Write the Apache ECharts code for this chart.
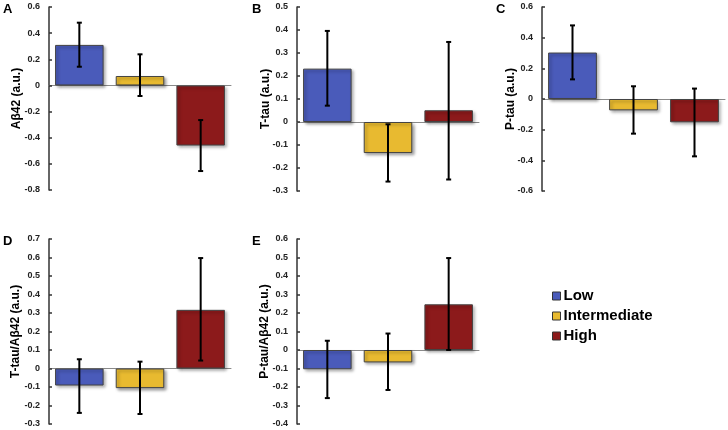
<!DOCTYPE html>
<html>
<head>
<meta charset="utf-8">
<script src="https://cdn.jsdelivr.net/npm/echarts@6/dist/echarts.min.js"></script>
<style>html,body{margin:0;padding:0;background:#fff}#c{width:728px;height:430px}</style>
</head>
<body>
<div id="c"></div>
<script>
var categories = ['Low', 'Intermediate', 'High'];
var colors = ['#4A5BBA', '#E8BA30', '#8C1A1B'];

var panelLetters = ['A', 'B', 'C', 'D', 'E'];
var axisNames = ['A\u03b242 (a.u.)', 'T-tau (a.u.)', 'P-tau (a.u.)', 'T-tau/A\u03b242 (a.u.)', 'P-tau/A\u03b242 (a.u.)'];
var yMin = [-0.8, -0.3, -0.6, -0.3, -0.4];
var yMax = [0.6, 0.5, 0.6, 0.7, 0.6];
var yStep = [0.2, 0.1, 0.2, 0.1, 0.1];

var abeta42Mean = [0.31, 0.072, -0.46];
var abeta42Low = [0.143, -0.081, -0.655];
var abeta42High = [0.48, 0.238, -0.265];

var ttauMean = [0.232, -0.135, 0.051];
var ttauLow = [0.071, -0.259, -0.25];
var ttauHigh = [0.396, -0.01, 0.348];

var ptauMean = [0.303, -0.074, -0.152];
var ptauLow = [0.128, -0.226, -0.374];
var ptauHigh = [0.48, 0.083, 0.068];

var ttauRatioMean = [-0.092, -0.106, 0.317];
var ttauRatioLow = [-0.24, -0.246, 0.043];
var ttauRatioHigh = [0.05, 0.037, 0.597];

var ptauRatioMean = [-0.104, -0.067, 0.247];
var ptauRatioLow = [-0.26, -0.216, 0.0];
var ptauRatioHigh = [0.05, 0.089, 0.497];

var means = [abeta42Mean, ttauMean, ptauMean, ttauRatioMean, ptauRatioMean];
var lows = [abeta42Low, ttauLow, ptauLow, ttauRatioLow, ptauRatioLow];
var highs = [abeta42High, ttauHigh, ptauHigh, ttauRatioHigh, ptauRatioHigh];

var grids = [
  {left: 49, top: 7, width: 182, height: 183},
  {left: 297, top: 7, width: 182, height: 184},
  {left: 542, top: 7, width: 183, height: 184},
  {left: 49, top: 239, width: 182, height: 185},
  {left: 297, top: 239, width: 182, height: 185}
];
var nameGaps = [26, 25, 25, 27, 26];
var letterPos = [[3, 3], [252, 3], [496, 3], [3, 235], [252, 235]];

var chart = echarts.init(document.getElementById('c'));
var option = {
  animation: false,
  backgroundColor: '#fff',
  title: [], grid: [], xAxis: [], yAxis: [], series: [],
  legend: {
    orient: 'vertical', left: 547, top: 283,
    itemWidth: 8, itemHeight: 8, itemGap: 4, icon: 'rect',
    data: categories,
    itemStyle: {borderColor: '#333', borderWidth: 1},
    textStyle: {fontFamily: 'Liberation Sans, Arial', fontWeight: 'bold', fontSize: 15, lineHeight: 16, color: '#000', padding: [0, 0, 0, -2]}
  }
};

for (var g = 0; g < 5; g++) {
  option.title.push({text: panelLetters[g], left: letterPos[g][0], top: letterPos[g][1], padding: 0,
    textStyle: {fontFamily: 'Liberation Sans, Arial', fontWeight: 'bold', fontSize: 13, color: '#000'}});
  option.grid.push(grids[g]);
  option.xAxis.push({type: 'category', gridIndex: g, data: categories,
    axisLine: {onZero: true, lineStyle: {color: '#8a8a8a', width: 1}},
    axisTick: {show: false}, axisLabel: {show: false}, splitLine: {show: false}});
  option.yAxis.push({type: 'value', gridIndex: g, min: yMin[g], max: yMax[g], interval: yStep[g],
    name: axisNames[g], nameLocation: 'middle', nameRotate: 90, nameGap: nameGaps[g], nameMoveOverlap: false,
    nameTextStyle: {fontFamily: 'Liberation Sans, Arial', fontWeight: 'bold', fontSize: 12, color: '#000'},
    axisLine: {show: true, lineStyle: {color: '#333', width: 1.5}},
    axisTick: {show: true, inside: true, length: 3, lineStyle: {color: '#333', width: 1.5}},
    axisLabel: {margin: 9, fontFamily: 'Liberation Sans, Arial', fontWeight: 'bold', fontSize: 9, color: '#222'},
    splitLine: {show: false}});
  for (var k = 0; k < 3; k++) {
    var d = ['-', '-', '-'];
    d[k] = means[g][k];
    option.series.push({type: 'bar', name: categories[k], xAxisIndex: g, yAxisIndex: g,
      data: d, barWidth: '80%', barGap: '-100%',
      itemStyle: {color: colors[k], borderColor: '#444', borderWidth: 1,
        shadowColor: 'rgba(0,0,0,0.35)', shadowBlur: 3, shadowOffsetX: 2, shadowOffsetY: 2}});
  }
  var errData = [];
  for (var k2 = 0; k2 < 3; k2++) errData.push([k2, lows[g][k2], highs[g][k2]]);
  option.series.push({type: 'custom', xAxisIndex: g, yAxisIndex: g, data: errData, z: 10,
    renderItem: function (params, api) {
      var x = api.value(0);
      var top = api.coord([x, api.value(2)]);
      var bot = api.coord([x, api.value(1)]);
      var hw = 2.5;
      var st = {stroke: '#000', lineWidth: 2};
      return {type: 'group', children: [
        {type: 'line', shape: {x1: top[0], y1: top[1], x2: bot[0], y2: bot[1]}, style: st},
        {type: 'line', shape: {x1: top[0] - hw, y1: top[1], x2: top[0] + hw, y2: top[1]}, style: st},
        {type: 'line', shape: {x1: bot[0] - hw, y1: bot[1], x2: bot[0] + hw, y2: bot[1]}, style: st}
      ]};
    }});
}
chart.setOption(option);
</script>
</body>
</html>
